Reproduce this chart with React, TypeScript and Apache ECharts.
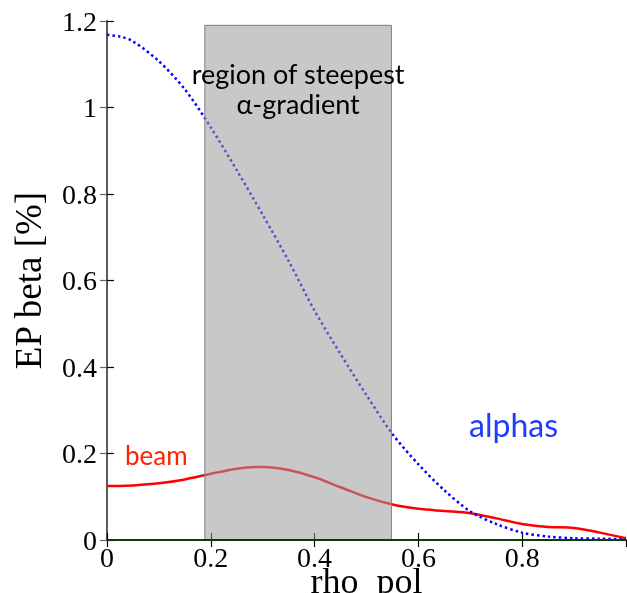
import React, { useEffect, useRef } from "react";
import * as echarts from "echarts";

const rhoPol = [0, 0.025, 0.05, 0.1, 0.15, 0.2, 0.25, 0.3, 0.35, 0.4, 0.45, 0.5, 0.55, 0.6, 0.65, 0.7, 0.75, 0.8, 0.85, 0.9, 0.95, 1.0];
const alphas = [1.168, 1.164, 1.153, 1.107, 1.042, 0.954, 0.855, 0.752, 0.645, 0.53, 0.43, 0.335, 0.245, 0.175, 0.115, 0.066, 0.037, 0.017, 0.008, 0.004, 0.003, 0.002];
const beam = [0.125, 0.125, 0.126, 0.131, 0.14, 0.153, 0.165, 0.169, 0.162, 0.145, 0.122, 0.099, 0.082, 0.072, 0.067, 0.062, 0.05, 0.037, 0.03, 0.028, 0.017, 0.004];
const regionX = [0.1885, 0.548];
const regionTop = 1.19;
const yTicks = [0, 0.2, 0.4, 0.6, 0.8, 1, 1.2];
const xTicks = [0, 0.2, 0.4, 0.6, 0.8, 1.0];

export default function App() {
  const ref = useRef<HTMLDivElement>(null);
  useEffect(() => {
    if (!ref.current) return;
    const chart = echarts.init(ref.current, null, { renderer: "svg" });
    const serif = "Liberation Serif";
    const sans = "Lato";
    const yMin = yTicks[0];
    const yMax = yTicks[yTicks.length - 1];
    const xMin = xTicks[0];
    const xMax = xTicks[xTicks.length - 1];
    chart.setOption({
      animation: false,
      grid: { left: 107, right: 1, top: 21, bottom: 53, containLabel: false, outerBoundsMode: "none" },
      xAxis: [
        {
          type: "value",
          position: "bottom",
          min: xMin,
          max: xMax,
          interval: 0.2,
          name: "rho  pol",
          nameLocation: "middle",
          nameGap: 23,
          nameMoveOverlap: false,
          nameTextStyle: { fontFamily: serif, fontSize: 36, color: "#000" },
          axisLine: { show: true, lineStyle: { color: "#000", width: 1.5 } },
          axisTick: { show: true, inside: true, length: 7, lineStyle: { color: "#000", width: 1.2 } },
          axisLabel: { fontFamily: serif, fontSize: 28, color: "#000", margin: 3, showMaxLabel: false },
          splitLine: { show: false },
        },
        {
          type: "value",
          position: "top",
          min: xMin,
          max: xMax,
          interval: 0.2,
          axisLine: { show: true, lineStyle: { color: "#000", width: 1.5 } },
          axisTick: { show: true, inside: true, length: 7, lineStyle: { color: "#000", width: 1.2 } },
          axisLabel: { show: false },
          splitLine: { show: false },
        },
      ],
      yAxis: [
        {
          type: "value",
          position: "left",
          min: yMin,
          max: yMax,
          interval: 0.2,
          name: "EP beta [%]",
          nameLocation: "middle",
          nameGap: 60,
          nameMoveOverlap: false,
          nameTextStyle: { fontFamily: serif, fontSize: 37, color: "#000" },
          axisLine: { show: true, lineStyle: { color: "#000", width: 1.5 } },
          axisTick: { show: true, inside: true, length: 7, lineStyle: { color: "#000", width: 1.2 } },
          axisLabel: { fontFamily: serif, fontSize: 28, color: "#000", margin: 10 },
          splitLine: { show: false },
        },
        {
          type: "value",
          position: "right",
          min: yMin,
          max: yMax,
          interval: 0.2,
          axisLine: { show: true, lineStyle: { color: "#666", width: 1.5 } },
          axisTick: { show: true, inside: true, length: 7, lineStyle: { color: "#666", width: 1.2 } },
          axisLabel: { show: false },
          splitLine: { show: false },
        },
      ],
      series: [
        {
          name: "beam",
          type: "line",
          z: 2,
          smooth: 0.3,
          showSymbol: false,
          symbol: "none",
          data: rhoPol.map((x, i) => [x, beam[i]]),
          lineStyle: { color: "#ff0000", width: 2.5 },
          markLine: {
            silent: true,
            symbol: "none",
            label: { show: false },
            lineStyle: { color: "#0b3d0b", width: 2, type: "solid" },
            data: [{ yAxis: 0 }],
          },
        },
        {
          name: "alphas",
          type: "line",
          z: 2,
          smooth: 0.3,
          showSymbol: false,
          symbol: "none",
          data: rhoPol.map((x, i) => [x, alphas[i]]),
          lineStyle: { color: "#0000ff", width: 2.5, type: [2.5, 3] },
          markArea: {
            z: 3,
            silent: true,
            itemStyle: { color: "rgba(155,155,155,0.55)", borderColor: "#808080", borderWidth: 1 },
            label: {
              show: true,
              position: "insideTop",
              distance: 34,
              formatter: "region of steepest\nα-gradient",
              fontFamily: sans,
              fontSize: 27,
              lineHeight: 30,
              color: "#000",
              align: "center",
            },
            data: [[{ xAxis: regionX[0], yAxis: 0 }, { xAxis: regionX[1], yAxis: regionTop }]],
          },
        },
      ],
      graphic: [
        {
          type: "text",
          left: 125,
          top: 442,
          style: { text: "beam", fontFamily: sans, fontSize: 26, fill: "#ff2200" },
        },
        {
          type: "text",
          left: 469,
          top: 408,
          style: { text: "alphas", fontFamily: sans, fontSize: 32, fill: "#1f3cff" },
        },
      ],
    });
    return () => chart.dispose();
  }, []);
  return <div ref={ref} style={{ position: "fixed", left: 0, top: 0, width: 627, height: 593 }} />;
}
